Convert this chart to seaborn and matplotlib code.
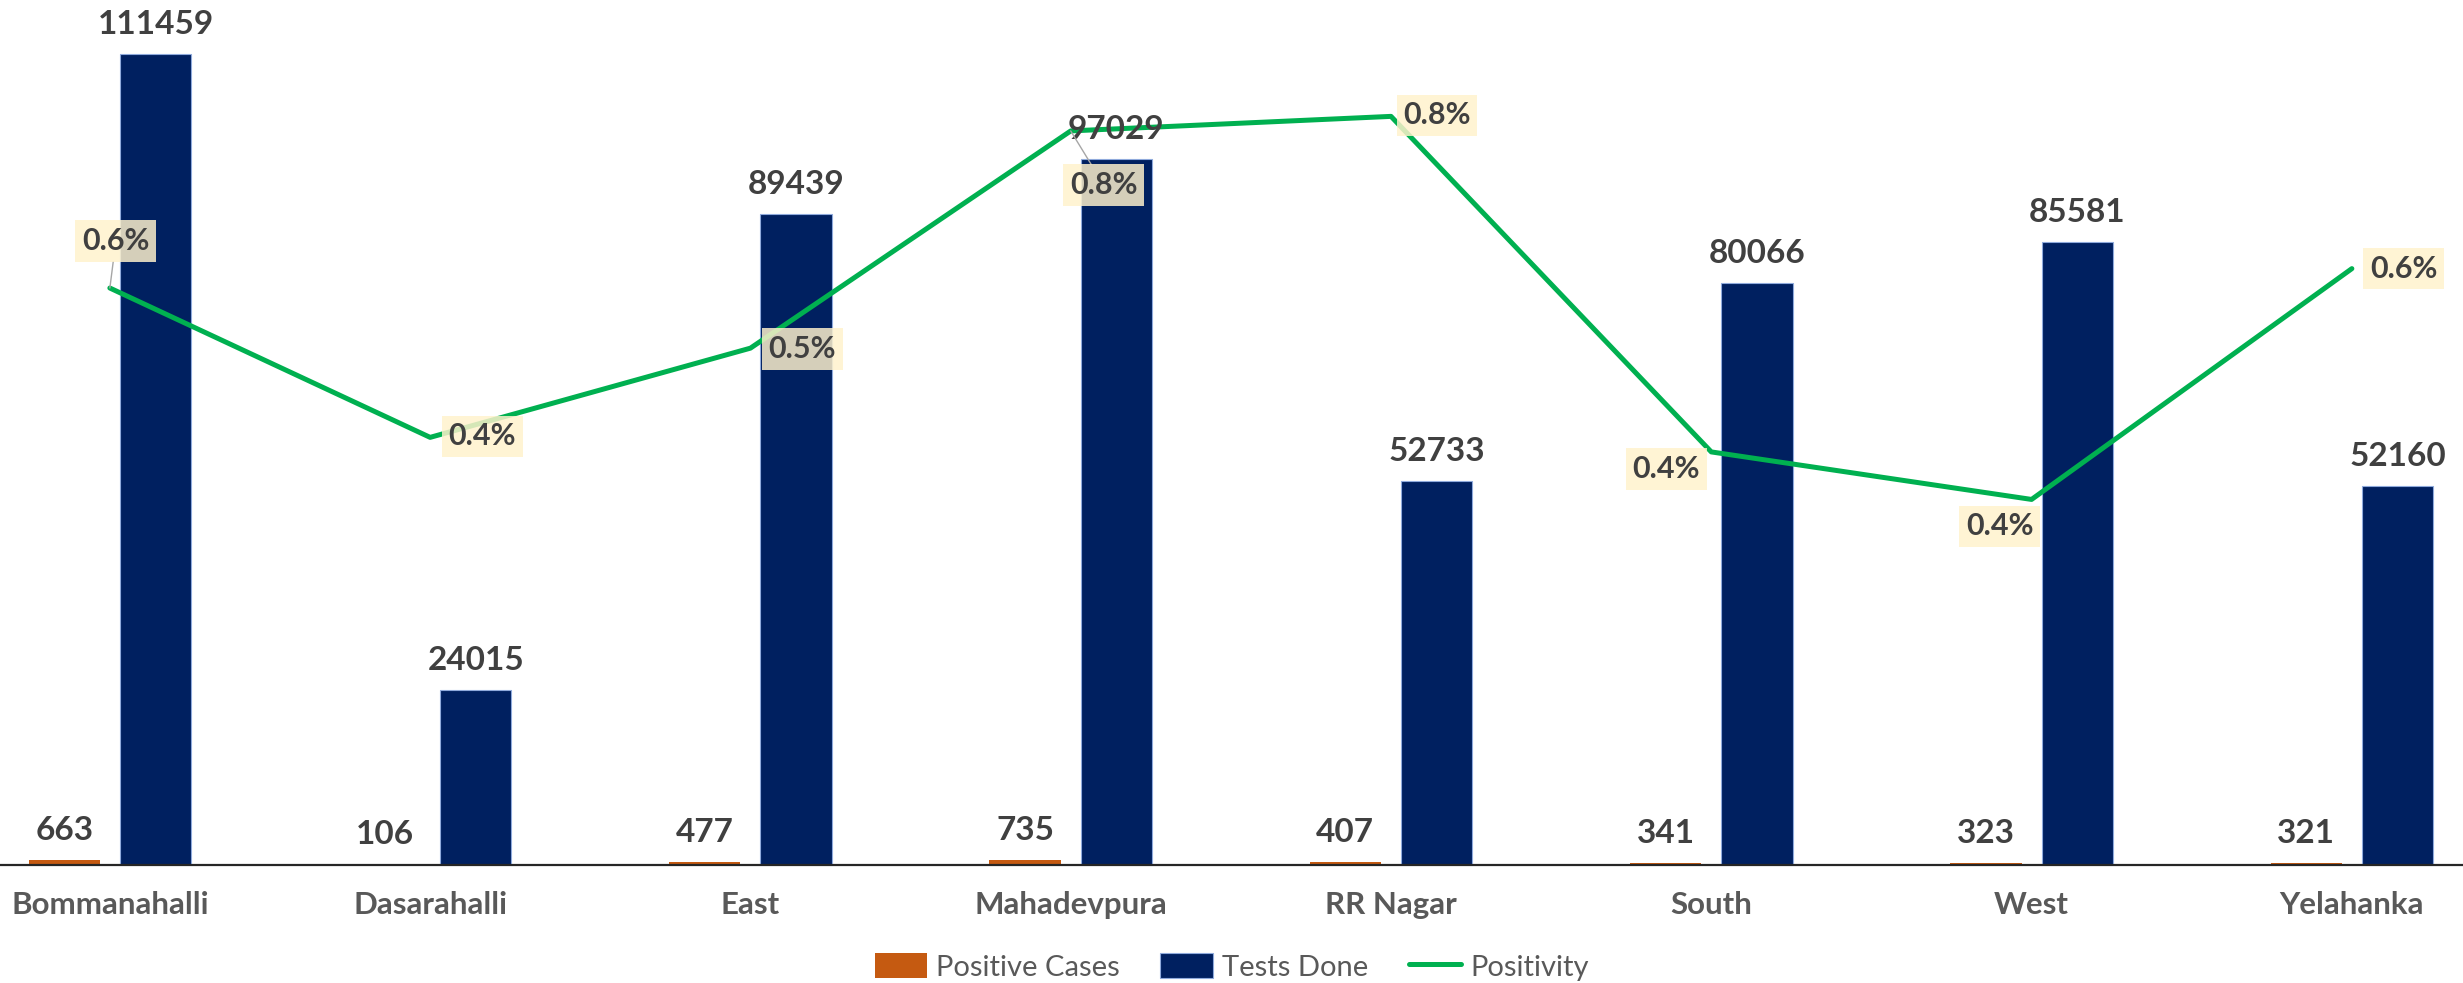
import numpy as np
import pandas as pd
import seaborn as sns
import matplotlib.pyplot as plt
from matplotlib.lines import Line2D

zones = ['Bommanahalli', 'Dasarahalli', 'East', 'Mahadevpura', 'RR Nagar', 'South', 'West', 'Yelahanka']
positive_cases = [663, 106, 477, 735, 407, 341, 323, 321]
tests_done = [111459, 24015, 89439, 97029, 52733, 80066, 85581, 52160]
positivity = [0.595, 0.441, 0.533, 0.757, 0.772, 0.426, 0.377, 0.615]  # in %

df = pd.DataFrame({
    'Zone': zones * 2,
    'Series': ['Positive Cases'] * len(zones) + ['Tests Done'] * len(zones),
    'Count': positive_cases + tests_done,
})

sns.set_style("white")
plt.rcParams['font.family'] = ['Lato', 'DejaVu Sans']

fig = plt.figure(figsize=(24.63, 9.83), dpi=100)
ax = fig.add_axes([0, 0.12, 1, 0.88])

# bars: positive cases (tiny) next to tests done
sns.barplot(data=df, x='Zone', y='Count', hue='Series', palette=['#C55A11', '#002060'],
            saturation=1, width=0.57, gap=0.22, errorbar=None, legend=False, ax=ax, linewidth=0)
for p in ax.containers[1]:
    p.set_edgecolor('#8FAADC')
    p.set_linewidth(0.8)

# positivity line on a hidden secondary axis
ax2 = ax.twinx()
sns.lineplot(x=np.arange(len(zones)), y=positivity, color='#00B050', lw=3.6, ax=ax2,
             legend=False, solid_capstyle='round')
ax2.set_ylim(0, 0.892)
ax2.axis('off')

ax.set_ylim(0, 118900)
ax.set_xlim(-0.343, 7.347)
ax.set_xlabel('')
ax.set_ylabel('')
ax.set_yticks([])
sns.despine(ax=ax, left=True)
ax.spines['bottom'].set_color('#262626')
ax.spines['bottom'].set_linewidth(1.6)
ax.tick_params(axis='x', length=0, pad=19)
for t in ax.get_xticklabels():
    t.set_fontsize(22.5)
    t.set_fontweight('bold')
    t.set_color('#595959')

# value labels for bars (drawn on ax2 so they sit above the line)
for cont in ax.containers:
    for p in cont:
        h = p.get_height()
        ax2.annotate(f'{int(round(h))}', xy=(p.get_x() + p.get_width() / 2, h),
                     xycoords=ax.transData, xytext=(0, 15), textcoords='offset pixels',
                     ha='center', va='bottom', fontsize=24, fontweight='bold', color='#404040')

# positivity labels
offsets = [(6, 47), (52, 1), (52, -1), (33, -54), (46, 1), (-45, -17), (-32, -27), (52, 0)]
leaders = [0, 3]
for i, v in enumerate(positivity):
    kw = {}
    if i in leaders:
        kw['arrowprops'] = dict(arrowstyle='-', color='#A6A6A6', lw=1, shrinkA=0, shrinkB=0)
    ax2.annotate(f'{v:.1f}%', xy=(i, v), xytext=offsets[i], textcoords='offset pixels',
                 ha='center', va='center', fontsize=22, fontweight='bold', color='#404040',
                 bbox=dict(boxstyle='square,pad=0.22', fc='#FFF2CC', ec='none', alpha=0.84),
                 zorder=5, **kw)

handles = [ax.containers[0], ax.containers[1],
           Line2D([], [], color='#00B050', lw=3.6, solid_capstyle='round')]
fig.legend(handles, ['Positive Cases', 'Tests Done', 'Positivity'], loc='center',
           bbox_to_anchor=(0.5, 1 - 967 / 983), ncol=3, frameon=False, fontsize=21,
           labelcolor='#595959', handlelength=1.8, handleheight=0.95,
           handletextpad=0.3, columnspacing=1.4)

fig.savefig('out.png', dpi=100)
